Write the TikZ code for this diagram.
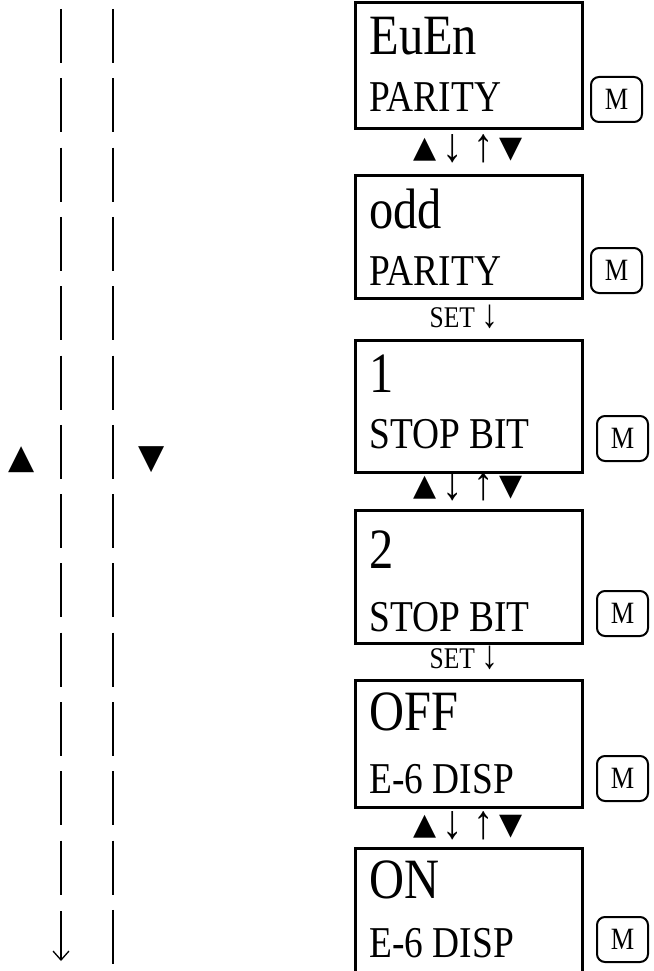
\documentclass[tikz,border=0pt]{standalone}
\usepackage{fontspec}
\setmainfont[FakeStretch=0.85]{Liberation Serif}
\newfontfamily\symfont{DejaVu Sans}
\usetikzlibrary{arrows.meta, positioning, calc}
\newcommand{\upkey}{\raisebox{4pt}{\symfont\fontsize{30}{30}\selectfont ▲}}
\newcommand{\dnkey}{\raisebox{4pt}{\symfont\fontsize{30}{30}\selectfont ▼}}
\newcommand{\darr}[1]{{\fontsize{#1}{#1}\selectfont ↓}}
\newcommand{\uarr}[1]{{\fontsize{#1}{#1}\selectfont ↑}}
\tikzset{
  every picture/.style={x=1pt, y=-1pt, line width=3pt},
  lcd/.style={draw, line width=3pt, minimum width=227pt, minimum height=#1, anchor=north west, inner sep=0pt},
  val/.style={anchor=base west, inner sep=0pt, font=\fontsize{57}{57}\selectfont},
  lbl/.style={anchor=base west, inner sep=0pt, font=\fontsize{44}{44}\selectfont},
  mkey/.style={draw, line width=2pt, rounded corners=8pt, minimum width=51pt, minimum height=45pt, inner sep=0pt, anchor=south west, font=\fontsize{31}{31}\selectfont},
  hint/.style={anchor=base, inner sep=0pt, font=\fontsize{38}{38}\selectfont},
  settxt/.style={anchor=base, inner sep=0pt, font=\fontsize{30}{30}\selectfont},
  tri/.style={inner sep=0pt, font=\symfont\fontsize{34}{34}\selectfont},
  rail/.style={line width=2.5pt, dash pattern=on 54pt off 15.3pt},
}

\begin{document}
\begin{tikzpicture}
  \useasboundingbox (0,0) rectangle (653,971);
  % display boxes
  \foreach \n/\y/\h/\v/\vy/\l/\ly/\mx/\my in {1/1.5/126/EuEn/55/PARITY/112/590/123,
      2/173.5/123/odd/228/PARITY/285/590/294,
      3/338.5/132/1/392/STOP BIT/448/596/462,
      4/508.5/133/2/568/STOP BIT/631/596/637,
      5/678.5/127/OFF/730/E-6 DISP/793/596/802,
      6/846.5/130/ON/898/E-6 DISP/957/596/963} {
    \node[lcd=\h] (b\n) at (354,\y) {};
    \node[val] (v\n) at (368,\vy) {\v};
    \node[lbl] (l\n) at (368,\ly) {\l};
    \node[mkey] (m\n) at (\mx,\my) {M};
  }
  % key hints between boxes
  \node[hint] (s12) at (468,161) {\upkey\,\darr{48}\hspace{10pt}\uarr{48}\,\dnkey};
  \node[settxt] (s23) at (464,327) {SET \darr{40}};
  \node[hint] (s34) at (468,499) {\upkey\,\darr{48}\hspace{10pt}\uarr{48}\,\dnkey};
  \node[settxt] (s45) at (464,668) {SET \darr{40}};
  \node[hint] (s56) at (468,838) {\upkey\,\darr{48}\hspace{10pt}\uarr{48}\,\dnkey};
  % scroll rails
  \node[tri] (up) at (22,460) {▲};
  \node[tri] (dn) at (152,460) {▼};
  \coordinate (la) at (61,9);
  \coordinate (lb) at (61,895);
  \coordinate (lc) at (61,911);
  \coordinate (ld) at (61,961);
  \coordinate (ra) at (113,9);
  \coordinate (rb) at (113,975);
  \draw[rail] (la) -- (lb);
  \draw[line width=1.3pt, -{Straight Barb[length=9pt, width=16pt]}] (lc) -- (ld);
  \draw[rail] (ra) -- (rb);
\end{tikzpicture}
\end{document}
